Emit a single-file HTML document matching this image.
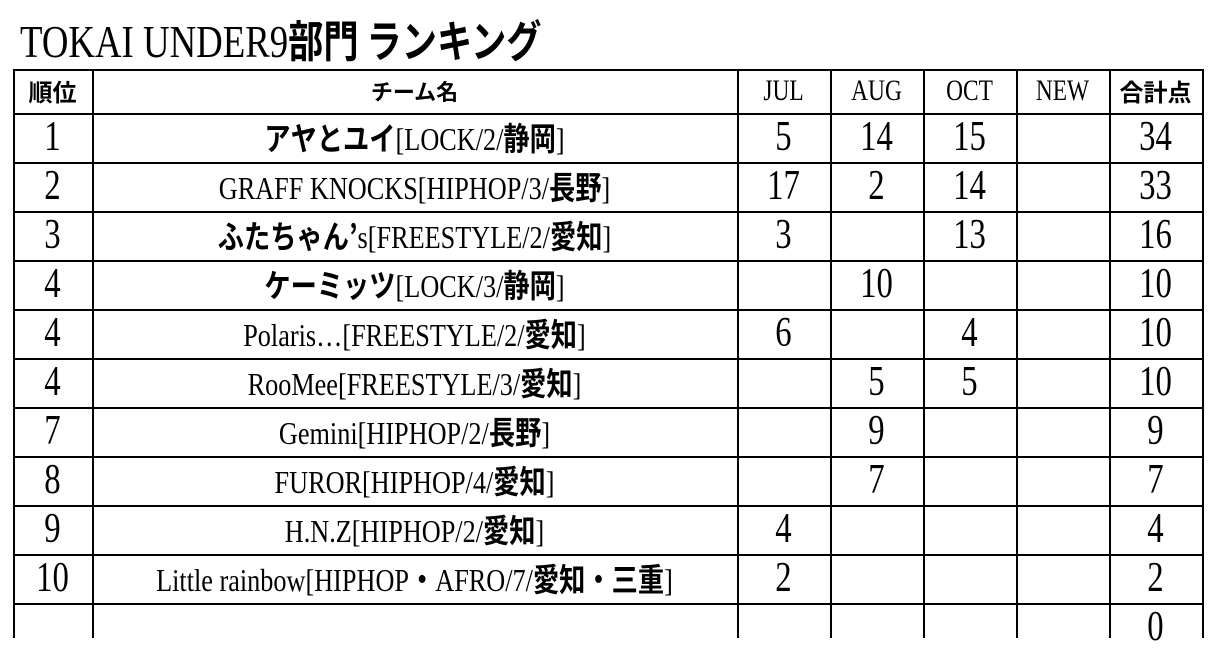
<!DOCTYPE html>
<html><head><meta charset="utf-8"><style>
body{margin:0;width:1213px;height:638px;overflow:hidden;background:#fff;font-family:"Liberation Serif","Noto Serif CJK SC","Noto Sans CJK JP",serif;color:#000}
.t{position:absolute;white-space:nowrap;text-align:center;transform:scaleX(0.8);}
.h{position:absolute;background:#000;height:2px;left:13px;width:1190px}
.v{position:absolute;background:#000;width:2px;top:69px;height:569px}
b{font-family:"Noto Sans CJK JP",sans-serif;font-weight:bold}
</style></head><body>
<div class="t" style="left:20px;top:12px;font-size:46px;line-height:52px;transform-origin:0 0;transform:scaleX(0.8)">TOKAI UNDER9<b style="font-size:44px">部門 ランキング</b></div>
<div id="g"></div>
<script>
const cols=[13,92,737,830,923,1016,1109,1202];
const rows=[69,113,162,211,260,309,358,407,456,505,554,603];
let h='';
rows.forEach(y=>h+=`<div class="h" style="top:${y}px"></div>`);
cols.forEach(x=>h+=`<div class="v" style="left:${x}px"></div>`);
function cell(c,r,txt,fs,sx){const x0=cols[c],x1=cols[c+1];const y0=rows[r],y1=rows[r+1]||652;
h+=`<div class="t" style="left:${x0-100}px;width:${x1-x0+200}px;top:${y0}px;height:${y1-y0}px;line-height:${y1-y0}px;font-size:${fs}px;transform:scaleX(${sx})">${txt}</div>`;}
cell(0,0,'<b>順位</b>',24,1);cell(1,0,'<b>チーム名</b>',22,1);cell(2,0,'JUL',30,0.78);cell(3,0,'AUG',30,0.78);cell(4,0,'OCT',30,0.78);cell(5,0,'NEW',30,0.78);cell(6,0,'<b>合計点</b>',24,1);
const d=[['1','<b>アヤとユイ</b>[LOCK/2/<b>静岡</b>]','5','14','15','','34'],
['2','GRAFF KNOCKS[HIPHOP/3/<b>長野</b>]','17','2','14','','33'],
['3','<b>ふたちゃん’</b>s[FREESTYLE/2/<b>愛知</b>]','3','','13','','16'],
['4','<b>ケーミッツ</b>[LOCK/3/<b>静岡</b>]','','10','','','10'],
['4','Polaris…[FREESTYLE/2/<b>愛知</b>]','6','','4','','10'],
['4','RooMee[FREESTYLE/3/<b>愛知</b>]','','5','5','','10'],
['7','Gemini[HIPHOP/2/<b>長野</b>]','','9','','','9'],
['8','FUROR[HIPHOP/4/<b>愛知</b>]','','7','','','7'],
['9','H.N.Z[HIPHOP/2/<b>愛知</b>]','4','','','','4'],
['10','Little rainbow[HIPHOP<b>・</b>AFRO/7/<b>愛知・三重</b>]','2','','','','2'],
['','','','','','','0']];
d.forEach((row,i)=>row.forEach((t,c)=>cell(c,i+1,t,c==1?32:42,c==1?0.82:0.78)));
document.getElementById('g').innerHTML=h;
</script>
</body></html>
